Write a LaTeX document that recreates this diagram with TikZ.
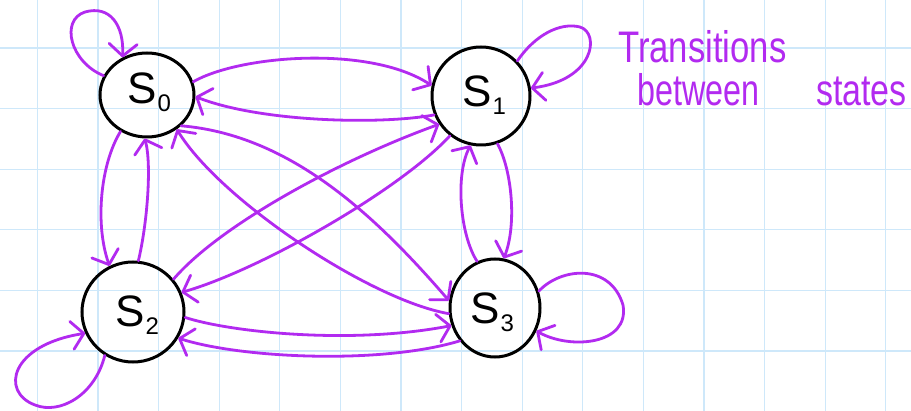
\documentclass[tikz,border=0pt]{standalone}
\usepackage{fontspec}
\setmainfont{Liberation Sans}
\usetikzlibrary{shapes.geometric,arrows.meta}
\definecolor{pen}{RGB}{178,42,240}
\definecolor{gridblue}{RGB}{206,232,250}
\tikzset{
  state/.style={ellipse, draw=black, line width=3pt, inner sep=0pt},
  arr/.style={draw=pen, line width=2.8pt, line cap=round, line join=round,
    -{Straight Barb[length=12pt,width=28pt,line cap=round,line join=round]}},
  lbl/.style={font=\fontsize{44}{44}\selectfont},
  note/.style={text=pen, inner sep=0pt, font=\fontsize{34}{34}\selectfont},
}
\newcommand{\subdig}[1]{\hspace{1pt}\raisebox{-8pt}{\fontsize{24}{24}\selectfont #1}}
\begin{document}
\begin{tikzpicture}[x=1pt,y=-1pt]
\useasboundingbox (0,0) rectangle (911,411);
\fill[white] (0,0) rectangle (911,411);
% grid
\foreach \k in {0,...,14} \draw[gridblue, line width=1.3pt] ({37.4+60.6*\k},0) -- ({37.4+60.6*\k},411);
\foreach \k in {0,...,5} \draw[gridblue, line width=1.3pt] (0,{48+60.6*\k}) -- (911,{48+60.6*\k});
% states
\node[state, minimum width=94pt, minimum height=84pt] (s0) at (147,95) {};
\node[state, minimum width=98pt, minimum height=98pt] (s1) at (481,96) {};
\node[state, minimum width=102pt, minimum height=100pt] (s2) at (133,312) {};
\node[state, minimum width=90pt, minimum height=98pt] (s3) at (495,308) {};
\node[lbl] (l0) at (149,92) {S\subdig{0}};
\node[lbl] (l1) at (484,95) {S\subdig{1}};
\node[lbl] (l2) at (137,315) {S\subdig{2}};
\node[lbl] (l3) at (492,312) {S\subdig{3}};
% note
\node[note, anchor=base west] (t1) at (618,63) {\scalebox{1.02}[1.3]{Transitions}};
\node[note, anchor=base west] (t2) at (637,106) {\scalebox{0.95}[1.3]{between}};
\node[note, anchor=base east] (t3) at (907,106) {\scalebox{1}[1.3]{states}};
% self loops
\draw[arr] (s0.156) .. controls (70,62) and (60,20) .. (85,12) .. controls (110,5) and (124,25) .. (s0.123);
\draw[arr] (s1.44) .. controls (535,35) and (560,22) .. (580,27) .. controls (600,33) and (595,80) .. (s1.9);
\draw[arr] (s2.237) .. controls (95,395) and (60,415) .. (35,405) .. controls (0,392) and (10,345) .. (s2.204);
\draw[arr] (s3.21) .. controls (560,268) and (610,262) .. (623,305) .. controls (630,345) and (570,350) .. (s3.331);
% S0 <-> S1
\draw[arr] (s0.16) .. controls (240,55) and (370,45) .. (s1.168);
\draw[arr] (s1.202) .. controls (380,125) and (260,122) .. (s0.358);
% S1 <-> S2
\draw[arr] (s1.232) .. controls (400,190) and (260,270) .. (s2.22);
\draw[arr] (s2.39) .. controls (220,225) and (340,160) .. (s1.214);
% S0 <-> S3
\draw[arr] (s0.318) .. controls (290,135) and (375,215) .. (s3.171);
\draw[arr] (s3.187) .. controls (370,300) and (220,200) .. (s0.311);
% S0 <-> S2
\draw[arr] (s0.234) .. controls (100,165) and (95,225) .. (s2.117);
\draw[arr] (s2.84) .. controls (147,225) and (152,165) .. (s0.267);
% S1 <-> S3
\draw[arr] (s1.289) .. controls (512,170) and (517,225) .. (s3.80);
\draw[arr] (s3.111) .. controls (460,235) and (455,175) .. (s1.258);
% S2 <-> S3
\draw[arr] (s2.354) .. controls (230,332) and (350,345) .. (s3.202);
\draw[arr] (s3.223) .. controls (380,365) and (240,358) .. (s2.330);
\end{tikzpicture}
\end{document}
